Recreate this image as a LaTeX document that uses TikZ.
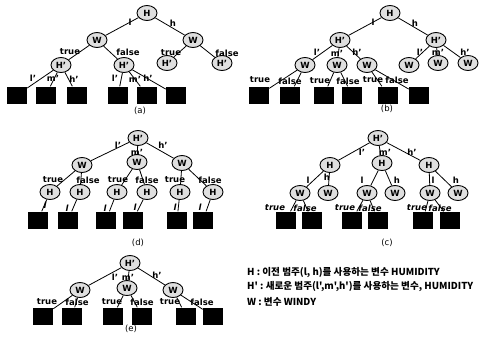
\documentclass[tikz,border=0pt]{standalone}
\usepackage{fontspec}
\setmainfont{DejaVu Sans}
\newfontfamily\krfont{Noto Sans CJK KR}
\usetikzlibrary{shapes.geometric}
\tikzset{
  nd/.style={ellipse, draw, line width=0.9pt, fill=gray!25, minimum width=20pt, minimum height=15pt, inner sep=0pt, font=\bfseries\fontsize{8.5}{8.5}\selectfont},
  leaf/.style={rectangle, fill=black, minimum width=20pt, minimum height=17pt, inner sep=0pt},
  lb/.style={font=\bfseries\fontsize{8.5}{8.5}\selectfont, inner sep=0pt},
  lbi/.style={font=\bfseries\itshape\fontsize{8.5}{8.5}\selectfont, inner sep=0pt},
  ed/.style={line width=0.8pt},
  capt/.style={font=\fontsize{8.5}{8.5}\selectfont, inner sep=0pt},
  lg/.style={font=\krfont\bfseries\fontsize{9.6}{9.6}\selectfont, anchor=west, inner sep=0pt}
}
\begin{document}
\begin{tikzpicture}[x=1pt,y=-1pt]
\useasboundingbox (0,0) rectangle (481,341);
% ---------- (a)
\node[nd] (aH) at (147,13) {H};
\node[nd] (aW1) at (97,40) {W};
\node[nd] (aW2) at (193,40) {W};
\node[nd] (aH1) at (61,65) {H'};
\node[nd] (aH2) at (124,65) {H'};
\node[nd] (aH3) at (167,63) {H'};
\node[nd] (aH4) at (222,63) {H'};
\foreach \n/\x in {a1/17,a2/46,a3/77,a4/118,a5/147,a6/176} \node[leaf] (\n) at (\x,95) {};
\draw[ed] (aH)--(aW1) (aH)--(aW2) (aW1)--(aH1) (aW1)--(aH2) (aW2)--(aH3) (aW2)--(aH4)
  (aH1)--(a1) (aH1)--(a2) (aH1)--(a3) (aH2)--(a4) (aH2)--(a5) (aH2)--(a6);
\node[lb] (al1) at (130,22) {l};
\node[lb] (al2) at (173,23) {h};
\node[lb] (al3) at (70,52) {true};
\node[lb] (al4) at (128,52) {false};
\node[lb] (al5) at (171,53) {true};
\node[lb] (al6) at (227,53) {false};
\node[lb] (al7) at (33,78) {l'};
\node[lb] (al8) at (53,78) {m'};
\node[lb] (al9) at (74,79) {h'};
\node[lb] (al10) at (115,78) {l'};
\node[lb] (al11) at (135,79) {m'};
\node[lb] (al12) at (148,78) {h'};
\node[capt] (acap) at (140,111) {(a)};
% ---------- (b)
\node[nd] (bH) at (390,13) {H};
\node[nd] (bH1) at (340,40) {H'};
\node[nd] (bH2) at (436,40) {H'};
\node[nd] (bW1) at (305,65) {W};
\node[nd] (bW2) at (337,65) {W};
\node[nd] (bW3) at (367,65) {W};
\node[nd] (bW4) at (409,65) {W};
\node[nd] (bW5) at (438,63) {W};
\node[nd] (bW6) at (468,63) {W};
\foreach \n/\x in {b1/259,b2/290,b3/324,b4/352,b5/388,b6/419} \node[leaf] (\n) at (\x,95) {};
\draw[ed] (bH)--(bH1) (bH)--(bH2) (bH1)--(bW1) (bH1)--(bW2) (bH1)--(bW3)
  (bH2)--(bW4) (bH2)--(bW5) (bH2)--(bW6)
  (bW1)--(b1) (bW1)--(b2) (bW2)--(b3) (bW2)--(b4) (bW3)--(b5) (bW3)--(b6);
\node[lb] (bl1) at (373,22) {l};
\node[lb] (bl2) at (415,23) {h};
\node[lb] (bl3) at (317,52) {l'};
\node[lb] (bl4) at (337,53) {m'};
\node[lb] (bl5) at (357,52) {h'};
\node[lb] (bl6) at (420,52) {l'};
\node[lb] (bl7) at (438,52) {m'};
\node[lb] (bl8) at (465,52) {h'};
\node[lb] (bl9) at (260,80) {true};
\node[lb] (bl10) at (290,81) {false};
\node[lb] (bl11) at (320,81) {true};
\node[lb] (bl12) at (348,81) {false};
\node[lb] (bl13) at (373,80) {true};
\node[lb] (bl14) at (397,80) {false};
\node[capt] (bcap) at (387,109) {(b)};
% ---------- (d)
\node[nd] (dH) at (138,138) {H'};
\node[nd] (dW1) at (82,165) {W};
\node[nd] (dW2) at (137,162) {W};
\node[nd] (dW3) at (182,163) {W};
\foreach \n/\x in {dH1/50,dH2/80,dH3/117,dH4/147,dH5/180,dH6/213} \node[nd] (\n) at (\x,192) {H};
\foreach \n/\x in {d1/38,d2/68,d3/106,d4/133,d5/177,d6/203} \node[leaf] (\n) at (\x,220) {};
\draw[ed] (dH)--(dW1) (dH)--(dW2) (dH)--(dW3)
  (dW1)--(dH1) (dW1)--(dH2) (dW2)--(dH3) (dW2)--(dH4) (dW3)--(dH5) (dW3)--(dH6)
  (dH1)--(d1) (dH2)--(d2) (dH3)--(d3) (dH4)--(d4) (dH5)--(d5) (dH6)--(d6);
\node[lb] (dl1) at (118,145) {l'};
\node[lb] (dl2) at (137,152) {m'};
\node[lb] (dl3) at (163,145) {h'};
\node[lb] (dl4) at (53,180) {true};
\node[lb] (dl5) at (88,180) {false};
\node[lb] (dl6) at (118,180) {true};
\node[lb] (dl7) at (147,180) {false};
\node[lb] (dl8) at (175,180) {true};
\node[lb] (dl9) at (210,180) {false};
\node[lbi] (dl10) at (45,205) {l};
\node[lbi] (dl11) at (67,208) {l};
\node[lbi] (dl12) at (105,208) {l};
\node[lbi] (dl13) at (135,207) {l};
\node[lbi] (dl14) at (175,207) {l};
\node[lbi] (dl15) at (200,207) {l};
\node[capt] (dcap) at (138,243) {(d)};
% ---------- (c)
\node[nd] (cH) at (378,138) {H'};
\node[nd] (cH1) at (330,165) {H};
\node[nd] (cH2) at (382,163) {H};
\node[nd] (cH3) at (429,165) {H};
\foreach \n/\x in {cW1/300,cW2/328,cW3/367,cW4/395,cW5/430,cW6/458} \node[nd] (\n) at (\x,193) {W};
\foreach \n/\x in {c1/286,c2/312,c3/352,c4/378,c5/423,c6/450} \node[leaf] (\n) at (\x,220) {};
\draw[ed] (cH)--(cH1) (cH)--(cH2) (cH)--(cH3)
  (cH1)--(cW1) (cH1)--(cW2) (cH2)--(cW3) (cH2)--(cW4) (cH3)--(cW5) (cH3)--(cW6)
  (cW1)--(c1) (cW1)--(c2) (cW3)--(c3) (cW3)--(c4) (cW5)--(c5) (cW5)--(c6);
\node[lb] (cl1) at (362,152) {l'};
\node[lb] (cl2) at (385,152) {m'};
\node[lb] (cl3) at (412,152) {h'};
\node[lb] (cl4) at (308,180) {l};
\node[lb] (cl5) at (327,177) {h};
\node[lb] (cl6) at (362,180) {l};
\node[lb] (cl7) at (397,180) {h};
\node[lb] (cl8) at (433,180) {l};
\node[lb] (cl9) at (456,180) {h};
\node[lbi] (cl10) at (275,208) {true};
\node[lbi] (cl11) at (305,208) {false};
\node[lbi] (cl12) at (345,208) {true};
\node[lbi] (cl13) at (370,208) {false};
\node[lbi] (cl14) at (417,208) {true};
\node[lbi] (cl15) at (440,208) {false};
\node[capt] (ccap) at (387,243) {(c)};
% ---------- (e)
\node[nd] (eH) at (130,263) {H'};
\node[nd] (eW1) at (80,290) {W};
\node[nd] (eW2) at (127,288) {W};
\node[nd] (eW3) at (173,290) {W};
\foreach \n/\x in {e1/43,e2/72,e3/113,e4/142,e5/186,e6/213} \node[leaf] (\n) at (\x,316) {};
\draw[ed] (eH)--(eW1) (eH)--(eW2) (eH)--(eW3)
  (eW1)--(e1) (eW1)--(e2) (eW2)--(e3) (eW2)--(e4) (eW3)--(e5) (eW3)--(e6);
\node[lb] (el1) at (115,277) {l'};
\node[lb] (el2) at (128,277) {m'};
\node[lb] (el3) at (157,275) {h'};
\node[lb] (el4) at (47,302) {true};
\node[lb] (el5) at (77,302) {false};
\node[lb] (el6) at (112,302) {true};
\node[lb] (el7) at (142,302) {false};
\node[lb] (el8) at (170,302) {true};
\node[lb] (el9) at (202,302) {false};
\node[capt] (ecap) at (131,329) {(e)};
% ---------- legend
\node[lg] (lg1) at (247,273) {H : 이전 범주(l, h)를 사용하는 변수 HUMIDITY};
\node[lg] (lg2) at (247,287) {H' : 새로운 범주(l',m',h')를 사용하는 변수, HUMIDITY};
\node[lg] (lg3) at (247,302) {W : 변수 WINDY};
\end{tikzpicture}
\end{document}
